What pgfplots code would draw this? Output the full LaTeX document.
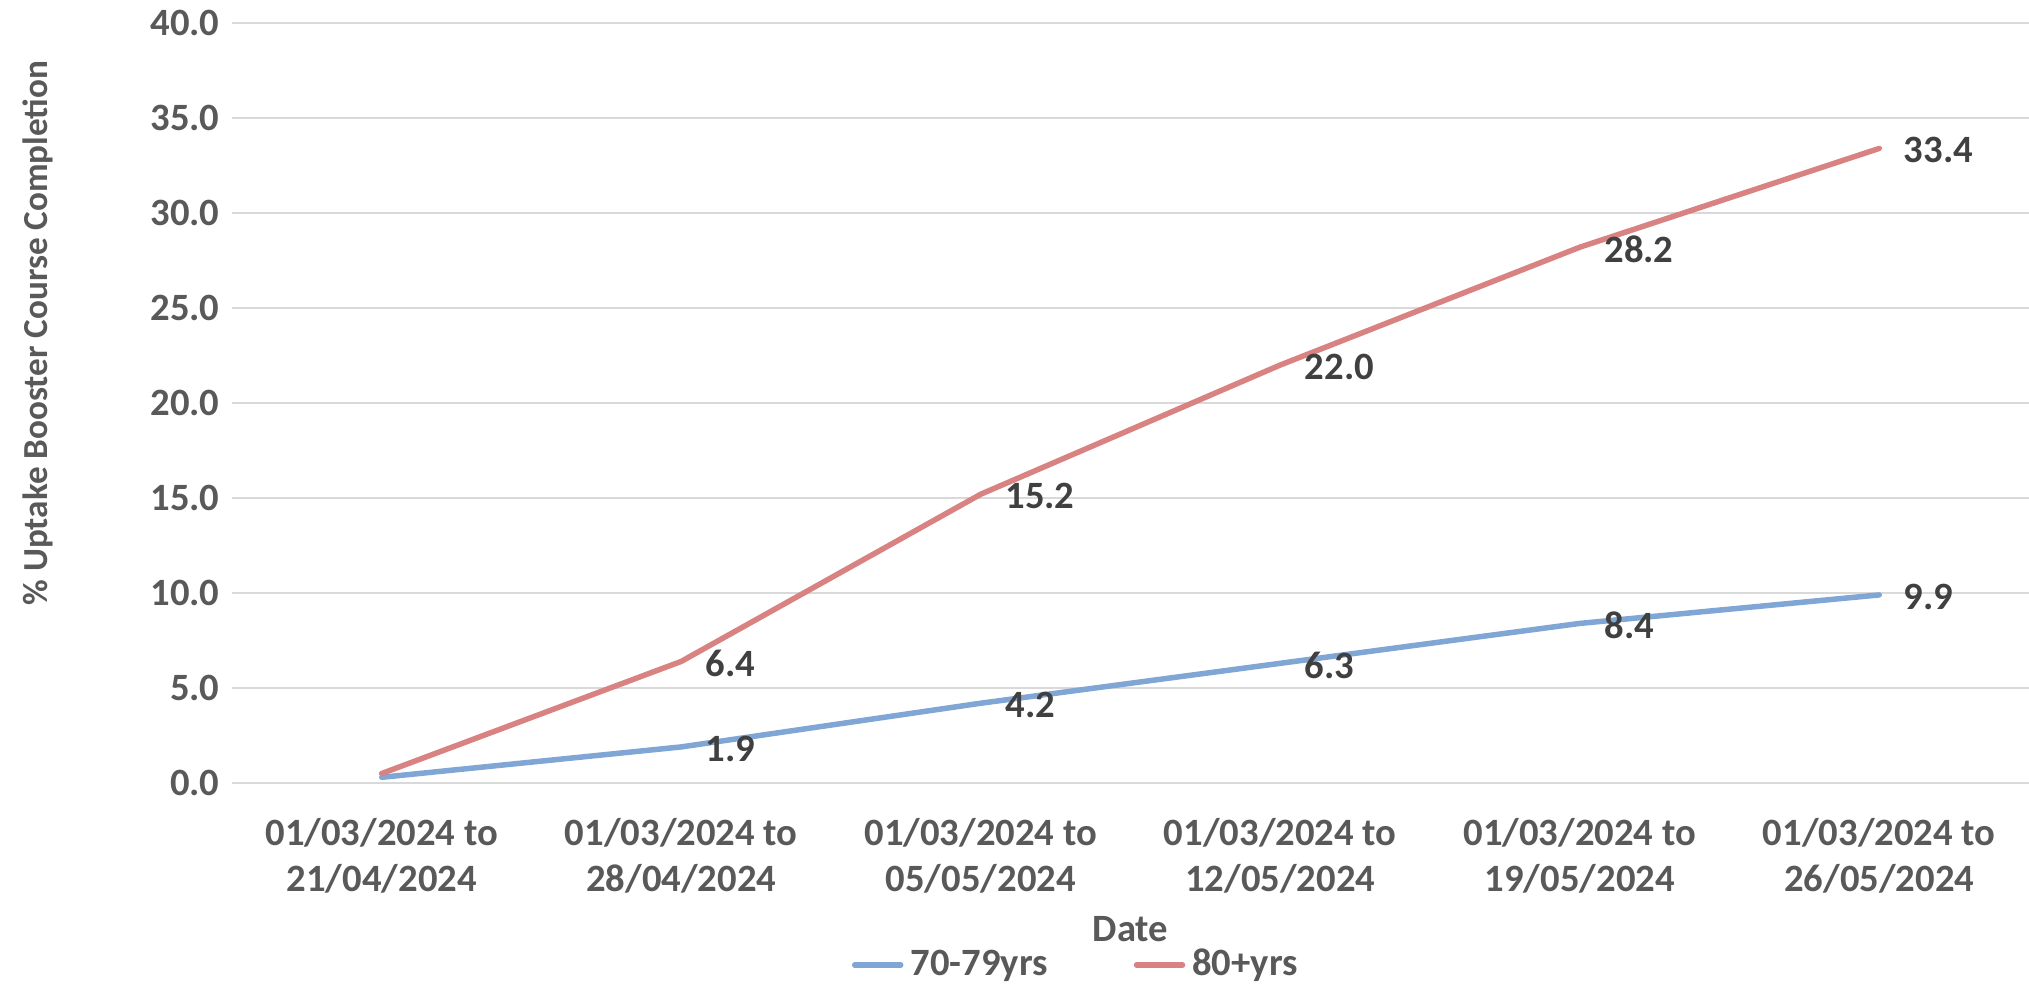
\documentclass[border=0pt]{standalone}
\usepackage{fontspec}
\setmainfont{Carlito}
\usepackage{pgfplots}
\pgfplotsset{compat=1.18}
\definecolor{tickgray}{HTML}{595959}
\definecolor{lblgray}{HTML}{404040}
\definecolor{gridgray}{HTML}{D9D9D9}
\definecolor{blueline}{HTML}{7FA6D4}
\definecolor{redline}{HTML}{D98282}
\begin{document}
\begin{tikzpicture}
\useasboundingbox (-23.2mm,-20mm) rectangle (179.7mm,78.3mm);
\begin{axis}[
  at={(0,0)}, anchor=south west,
  scale only axis, width=179.7mm, height=76mm,
  xmin=-0.5, xmax=5.5, ymin=0, ymax=40,
  axis line style={draw=none},
  major tick length=0pt,
  xtick={0,1,2,3,4,5},
  xticklabels={{01/03/2024 to\\21/04/2024},{01/03/2024 to\\28/04/2024},{01/03/2024 to\\05/05/2024},{01/03/2024 to\\12/05/2024},{01/03/2024 to\\19/05/2024},{01/03/2024 to\\26/05/2024}},
  xticklabel style={align=center, font=\fontsize{11}{13.2}\selectfont\bfseries, text=tickgray, yshift=-2.3mm},
  ytick={0,5,...,40},
  yticklabel style={font=\fontsize{11}{13}\selectfont\bfseries, text=tickgray, /pgf/number format/fixed, /pgf/number format/fixed zerofill, /pgf/number format/precision=1},
  /pgf/number format/assume math mode=true,
  ymajorgrids, grid style={gridgray, line width=0.25mm},
  ylabel={\% Uptake Booster Course Completion},
  ylabel style={at={(axis description cs:-0.108,0.592)}, anchor=center, font=\fontsize{10}{12}\selectfont\bfseries, text=tickgray},
  xlabel={Date},
  xlabel style={at={(axis description cs:0.5,0)}, anchor=center, yshift=-14.6mm, font=\fontsize{11}{13}\selectfont\bfseries, text=tickgray},
  legend style={at={(axis description cs:0.471,0)}, anchor=center, yshift=-18.2mm, draw=none, fill=none, font=\fontsize{11}{13}\selectfont\bfseries, text=tickgray, legend columns=2, /tikz/every even column/.append style={column sep=7.9mm}, inner sep=0pt},
  legend image code/.code={\draw[#1, line cap=round] (0mm,0mm) -- (4.6mm,0mm);},
  nodes near coords style={font=\fontsize{11}{13}\selectfont\bfseries, text=lblgray, anchor=west, inner sep=0pt, xshift=2.4mm, yshift=-0.2mm, /pgf/number format/fixed, /pgf/number format/fixed zerofill, /pgf/number format/precision=1},
]
\addplot[blueline, line width=0.55mm, line cap=round, line join=round, mark=none] coordinates {(0,0.3) (1,1.9) (2,4.2) (3,6.3) (4,8.4) (5,9.9)};
\addlegendentry{70-79yrs}
\addplot[redline, line width=0.55mm, line cap=round, line join=round, mark=none] coordinates {(0,0.5) (1,6.4) (2,15.2) (3,22.0) (4,28.2) (5,33.4)};
\addlegendentry{80+yrs}
\addplot[draw=none, mark=none, forget plot, nodes near coords] coordinates {(1,1.9) (2,4.2) (3,6.3) (4,8.4) (5,9.9)};
\addplot[draw=none, mark=none, forget plot, nodes near coords] coordinates {(1,6.4) (2,15.2) (3,22.0) (4,28.2) (5,33.4)};
\end{axis}
\end{tikzpicture}
\end{document}
